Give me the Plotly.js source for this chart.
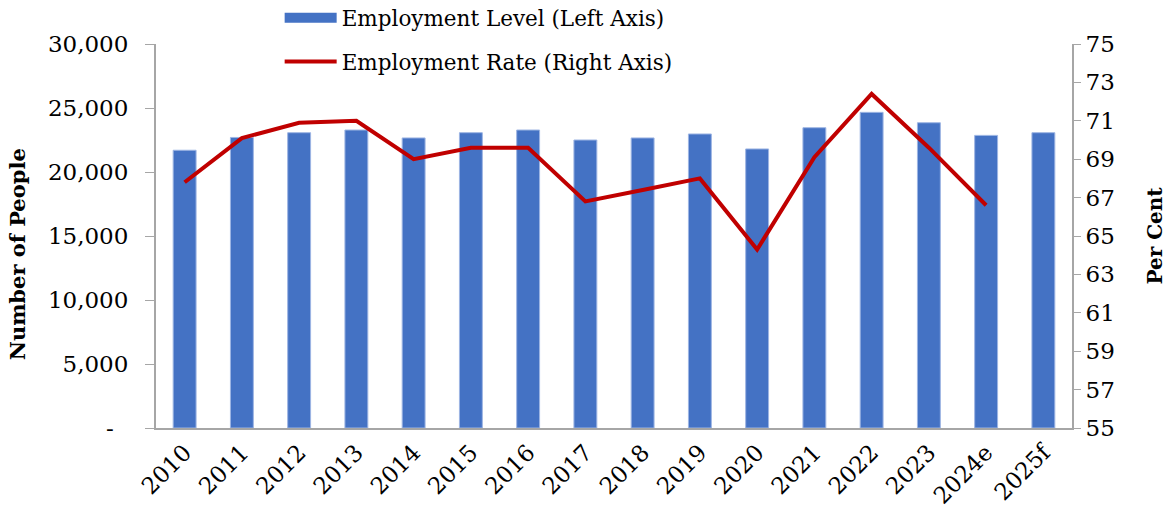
<!DOCTYPE html>
<html>
<head>
<meta charset="utf-8">
<script src="https://cdn.plot.ly/plotly-3.0.1.min.js"></script>
<style>html,body{margin:0;padding:0;background:#fff;}#chart{width:1170px;height:514px;}</style>
</head>
<body>
<div id="chart"></div>
<script>
const years = ["2010","2011","2012","2013","2014","2015","2016","2017","2018","2019","2020","2021","2022","2023","2024e","2025f"];
const employmentLevel = [21700,22700,23070,23280,22660,23070,23280,22500,22660,22970,21800,23460,24660,23850,22860,23070];
const employmentRate = [67.8,70.1,70.9,71.0,69.0,69.6,69.6,66.8,67.4,68.0,64.3,69.1,72.4,69.6,66.6,null];
const leftTickVals = [0,5000,10000,15000,20000,25000,30000];
const leftTickText = ["-\u00a0\u00a0","5,000","10,000","15,000","20,000","25,000","30,000"];
const seriesNames = ["Employment Level (Left Axis)", "Employment Rate (Right Axis)"];

const font = "DejaVu Serif, Liberation Serif, serif";
const blue = "#4472C4";
const red = "#C00000";

const traces = [
  {
    type: "bar", x: years, y: employmentLevel, name: seriesNames[0],
    marker: {color: blue, line: {color: "#9DB5E3", width: 1}},
    showlegend: false, yaxis: "y"
  },
  {
    // legend entry for the bars (wide rectangle key, as in the original)
    type: "scatter", mode: "lines", x: [null], y: [null], name: seriesNames[0],
    line: {color: blue, width: 15}, legendgroup: "a", yaxis: "y", hoverinfo: "skip"
  },
  {
    type: "scatter", mode: "lines", x: years, y: employmentRate, name: seriesNames[1],
    line: {color: red, width: 4}, legendgroup: "b", yaxis: "y2", connectgaps: false
  }
];

const layout = {
  width: 1170, height: 514,
  margin: {l: 156, r: 98, t: 44, b: 86, autoexpand: false},
  paper_bgcolor: "#fff", plot_bgcolor: "#fff",
  font: {family: font, size: 23, color: "#000"},
  bargap: 0.6,
  showlegend: true,
  legend: {
    x: 0.135, y: 1.122, xanchor: "left", yanchor: "top",
    font: {family: font, size: 21.5, color: "#000"},
    traceorder: "grouped", tracegroupgap: 13, itemwidth: 52,
    bgcolor: "rgba(0,0,0,0)"
  },
  xaxis: {
    type: "category", tickangle: -45, showgrid: false, ticks: "",
    showline: true, linecolor: "#A6A6A6", linewidth: 2,
    tickfont: {family: font, size: 23}
  },
  yaxis: {
    range: [0, 30000], tickvals: leftTickVals, ticktext: leftTickText,
    showgrid: false, zeroline: false, showline: true, linecolor: "#A6A6A6", linewidth: 2,
    ticks: "outside", ticklen: 9, tickcolor: "#A6A6A6", tickwidth: 1,
    ticklabelstandoff: 12,
    tickfont: {family: font, size: 23},
    title: {text: "<b>Number of People\u00a0\u00a0\u00a0\u00a0\u00a0</b>", font: {family: font, size: 21}, standoff: 17}
  },
  yaxis2: {
    overlaying: "y", side: "right", range: [55, 75], dtick: 2, tick0: 55,
    showgrid: false, zeroline: false, showline: true, linecolor: "#A6A6A6", linewidth: 2,
    ticks: "outside", ticklen: 7, tickcolor: "#A6A6A6", tickwidth: 1,
    tickfont: {family: font, size: 23},
    title: {text: "<b>Per Cent</b>", font: {family: font, size: 20}, standoff: 34}
  }
};

Plotly.newPlot("chart", traces, layout, {displayModeBar: false, staticPlot: true});
</script>
</body>
</html>
